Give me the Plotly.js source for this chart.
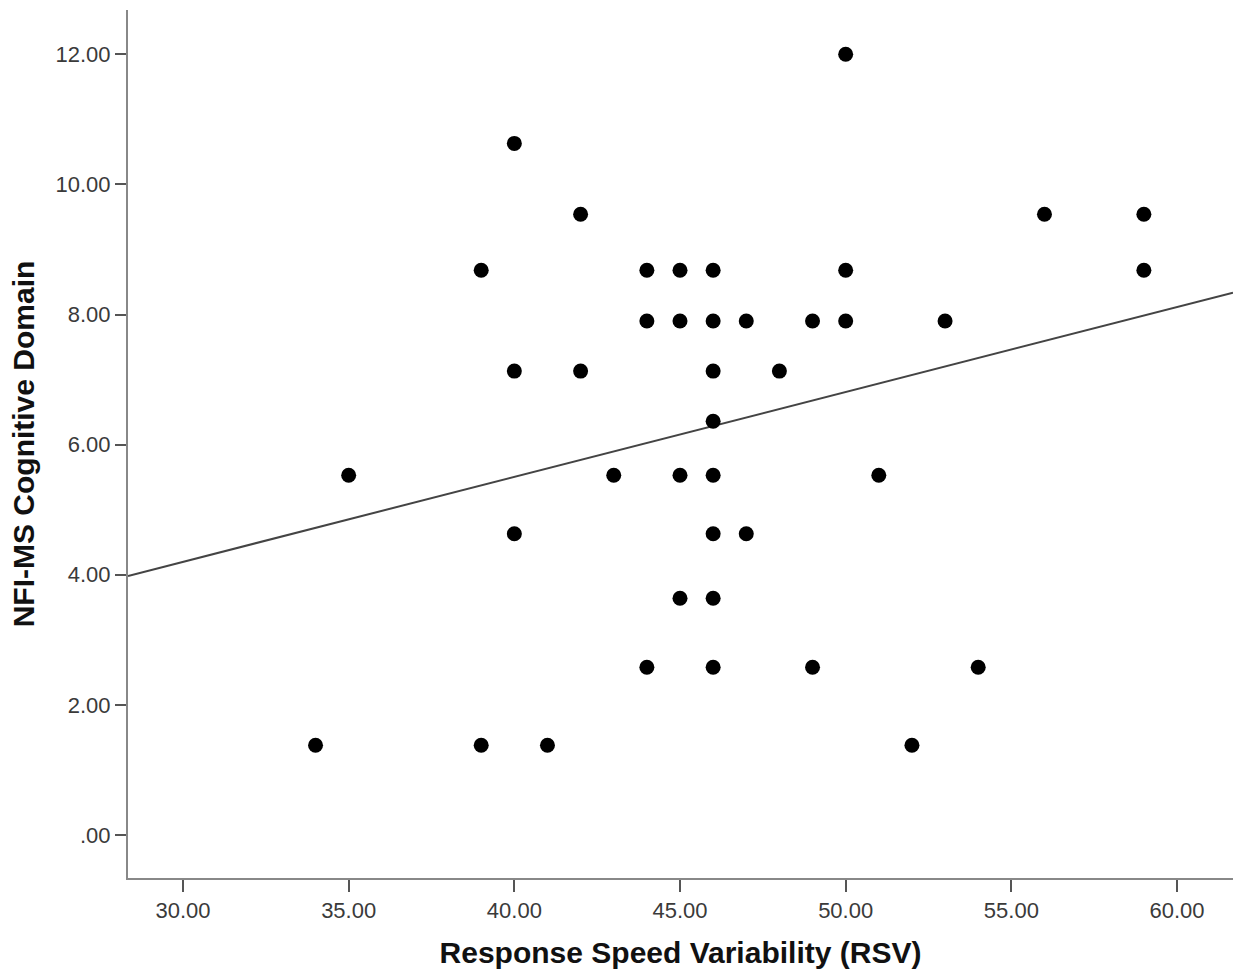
<!DOCTYPE html>
<html>
<head>
<meta charset="utf-8">
<script src="https://cdn.plot.ly/plotly-3.0.1.min.js"></script>
<style>html,body{margin:0;padding:0;background:#fff;}#chart{width:1233px;height:973px;}</style>
</head>
<body>
<div id="chart"></div>
<script>
// Response Speed Variability (RSV)
const rsv = [50, 40, 42, 56, 59, 39, 44, 45, 46, 50, 59, 44, 45, 46, 47, 49, 50, 53, 40, 42, 46, 48, 46, 35, 43, 45, 46, 51, 40, 46, 47, 45, 46, 44, 46, 49, 54, 34, 39, 41, 52];
// NFI-MS Cognitive Domain
const cognitive = [12.00, 10.63, 9.54, 9.54, 9.54, 8.68, 8.68, 8.68, 8.68, 8.68, 8.68, 7.90, 7.90, 7.90, 7.90, 7.90, 7.90, 7.90, 7.13, 7.13, 7.13, 7.13, 6.36, 5.53, 5.53, 5.53, 5.53, 5.53, 4.63, 4.63, 4.63, 3.64, 3.64, 2.58, 2.58, 2.58, 2.58, 1.38, 1.38, 1.38, 1.38];

const xTickVals = [30, 35, 40, 45, 50, 55, 60];
const xTickText = ["30.00", "35.00", "40.00", "45.00", "50.00", "55.00", "60.00"];
const yTickVals = [0, 2, 4, 6, 8, 10, 12];
const yTickText = [".00", "2.00", "4.00", "6.00", "8.00", "10.00", "12.00"];

const xRange = [28.34, 61.69];
const yRange = [-0.66, 12.68];

// least squares fit line over the axis range
const n = rsv.length;
const mx = rsv.reduce((a, b) => a + b, 0) / n;
const my = cognitive.reduce((a, b) => a + b, 0) / n;
let sxy = 0, sxx = 0;
for (let i = 0; i < n; i++) { sxy += (rsv[i] - mx) * (cognitive[i] - my); sxx += (rsv[i] - mx) ** 2; }
const slope = sxy / sxx;
const intercept = my - slope * mx;
const fitX = xRange.slice();
const fitY = fitX.map(v => intercept + slope * v);

const tickFont = {family: "Liberation Sans, Arial, sans-serif", size: 22, color: "#3a3a3a"};
const titleFont = {family: "Liberation Sans, Arial, sans-serif", size: 30, color: "#111", weight: "bold"};

const data = [
  {x: fitX, y: fitY, mode: "lines", type: "scatter", line: {color: "#444", width: 2}, hoverinfo: "skip", showlegend: false},
  {x: rsv, y: cognitive, mode: "markers", type: "scatter", marker: {color: "#000", size: 15}, showlegend: false}
];

const layout = {
  width: 1233, height: 973,
  margin: {l: 128, r: 0, t: 10, b: 95},
  paper_bgcolor: "#fff", plot_bgcolor: "#fff",
  showlegend: false,
  xaxis: {
    range: xRange, tickvals: xTickVals, ticktext: xTickText,
    showgrid: false, zeroline: false, showline: true, linecolor: "#888", linewidth: 2,
    ticks: "outside", ticklen: 12, tickwidth: 2, tickcolor: "#555",
    tickfont: tickFont,
    title: {text: "<b>Response Speed Variability (RSV)</b>", font: titleFont, standoff: 20}
  },
  yaxis: {
    range: yRange, tickvals: yTickVals, ticktext: yTickText,
    showgrid: false, zeroline: false, showline: true, linecolor: "#888", linewidth: 2,
    ticks: "outside", ticklen: 11, tickwidth: 2, tickcolor: "#555",
    tickfont: tickFont,
    title: {text: "<b>NFI-MS Cognitive Domain</b>", font: titleFont, standoff: 12}
  }
};

Plotly.newPlot("chart", data, layout, {displayModeBar: false, staticPlot: true});
</script>
</body>
</html>
